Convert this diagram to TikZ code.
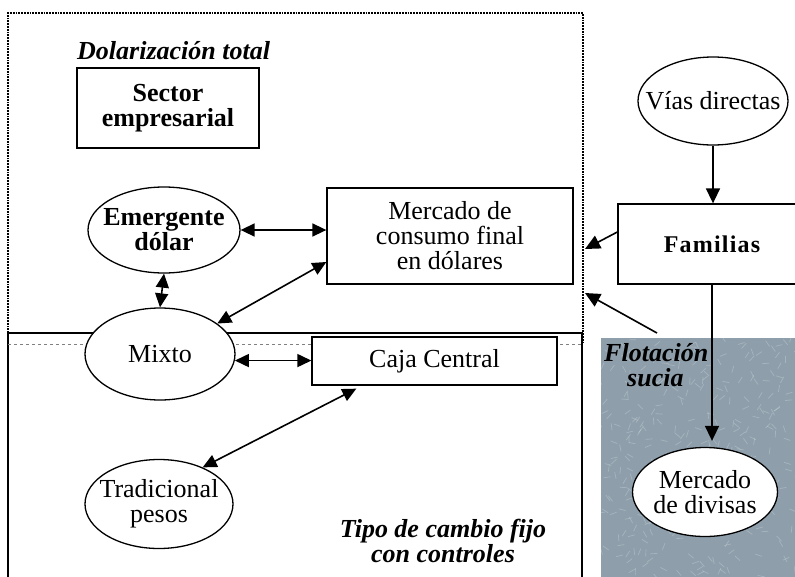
\documentclass[tikz,border=0pt]{standalone}
\usepackage{fontspec}
\setmainfont{Liberation Serif}
\usetikzlibrary{shapes.geometric,arrows.meta,calc}
\definecolor{texgray}{HTML}{8E9FAB}
\begin{document}
\begin{tikzpicture}[x=1pt,y=-1pt,
  box/.style={draw,line width=1.3pt,inner sep=0pt,align=center,fill=white},
  ell/.style={draw,ellipse,line width=1.3pt,inner sep=0pt,fill=white},
  arr/.style={-{Triangle[length=15pt,width=14pt]},line width=1.6pt},
  darr/.style={{Triangle[length=14pt,width=13pt]}-{Triangle[length=14pt,width=13pt]},line width=1.6pt},
  txt/.style={font=\fontsize{26}{25}\selectfont,align=center},
  btxt/.style={font=\fontsize{26}{25}\selectfont\bfseries,align=center},
  title/.style={font=\fontsize{26}{25}\selectfont\bfseries\itshape,align=center},
  grain/.style={white,opacity=0.22,line width=0.7pt},
]
\useasboundingbox (0,0) rectangle (795,576);
\clip (0,0) rectangle (795,576);
\fill[white] (0,0) rectangle (795,576);
% textured region
\fill[texgray] (601,338) rectangle (800,580);
\begin{scope}
  \clip (601,338) rectangle (795,576);
  \pgfmathsetseed{7}
  \foreach \i in {1,...,320}{
    \pgfmathsetmacro\xa{601+rnd*194}
    \pgfmathsetmacro\ya{338+rnd*238}
    \pgfmathsetmacro\ang{rnd*360}
    \draw[grain] (\xa,\ya) -- ++(\ang:7);
  }
\end{scope}
% lower solid frame
\draw[line width=1.3pt] (8,580) -- (8,333) -- (582,333) -- (582,580);
% upper dotted frame
\draw[densely dotted,line width=1.8pt] (8,333) -- (8,13) -- (583,13) -- (583,344);
\draw[dashed,gray,line width=0.5pt] (8,344) -- (583,344);

% titles
\node[title,anchor=base west,inner sep=0pt] (tdol) at (77,59) {Dolarización total};
\node[title] (ttipo) at (443,541) {Tipo de cambio fijo\\con controles};
\node[title,anchor=base west,inner sep=0pt] (tflot) at (604,361) {Flotación};
\node[title,anchor=base west,inner sep=0pt] (tsucia) at (627,386) {sucia};

% nodes
\node[box,btxt,minimum width=182pt,minimum height=80pt] (sector) at (168,108) {Sector\\empresarial};
\node[ell,minimum width=150pt,minimum height=88pt,label={[txt]center:Vías directas}] (vias) at (713,101) {};
\node[box,minimum width=188pt,minimum height=80pt,font=\fontsize{24}{25}\selectfont\bfseries\addfontfeatures{LetterSpace=5}] (fam) at (712,244) {Familias};
\node[box,txt,minimum width=246pt,minimum height=96pt] (merc) at (450,236) {Mercado de\\consumo final\\en dólares};
\node[ell,minimum width=152pt,minimum height=86pt,label={[btxt]center:{Emergente\\dólar}}] (emer) at (164,230) {};
\node[ell,minimum width=150pt,minimum height=92pt,label={[txt]center:Mixto}] (mixto) at (160,354) {};
\node[box,txt,minimum width=245pt,minimum height=48pt] (caja) at (434.5,361) {Caja Central};
\node[ell,minimum width=148pt,minimum height=89pt,label={[txt]center:{Tradicional\\pesos}}] (trad) at (159,504) {};
\node[ell,minimum width=145pt,minimum height=89pt,label={[txt]center:{Mercado\\de divisas}}] (div) at (705,492) {};

% free ends
\coordinate (famtip) at (585,249);
\coordinate (flottail) at (657,333);
\coordinate (flottip) at (585,293);

% connectors
\draw[arr] (vias.south) -- (vias.south |- fam.north);
\draw[arr] (fam.south) -- ([yshift=6pt]fam.south |- div.north);
\draw[arr] ([yshift=12pt]fam.west) -- (famtip);
\draw[arr] (flottail) -- (flottip);
\draw[darr] (emer.east) -- (emer.east -| merc.west);
\draw[darr] (emer.south) -- (mixto.north);
\draw[darr] (mixto.28) -- ([yshift=-26pt]merc.west);
\draw[darr] (mixto.-5) -- (mixto.-5 -| caja.west);
\draw[darr] ([xshift=45pt,yshift=-3pt]caja.south west) -- (trad.40);
\end{tikzpicture}
\end{document}
